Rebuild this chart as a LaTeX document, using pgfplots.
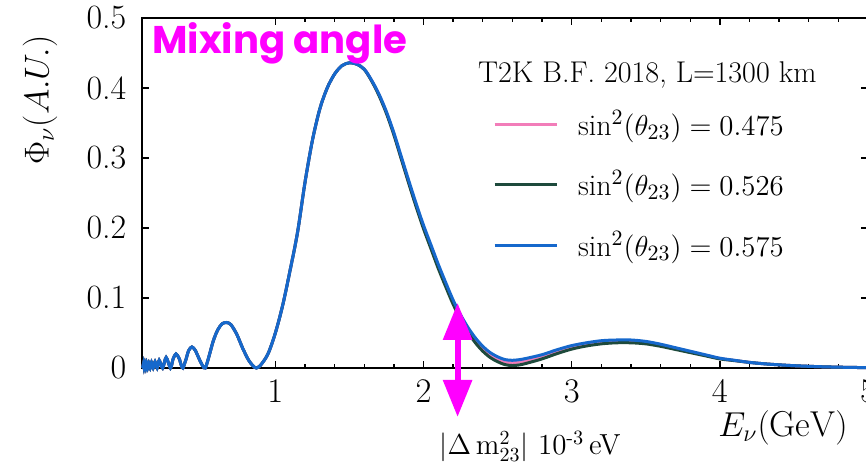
\documentclass[border=0pt]{standalone}
\usepackage{pgfplots}
\pgfplotsset{compat=1.18}
\usepackage{fontspec}
\usetikzlibrary{arrows.meta}
\newfontfamily\poppins{Poppins}

\definecolor{fluxpink}{HTML}{F27DB9}
\definecolor{fluxgreen}{HTML}{1E4A3C}
\definecolor{fluxblue}{HTML}{1668CC}
\definecolor{notemag}{HTML}{FF00FF}

% sin^2(theta_23) = 0.575
\pgfplotstableread{
x y
0.100 0.000
0.105 0.001
0.110 0.006
0.114 0.001
0.120 0.006
0.125 0.000
0.131 0.007
0.138 0.000
0.146 0.007
0.155 0.000
0.164 0.008
0.175 0.000
0.188 0.009
0.202 0.000
0.216 0.011
0.239 0.000
0.263 0.015
0.292 0.000
0.310 0.013
0.329 0.020
0.350 0.014
0.365 0.004
0.376 0.000
0.395 0.011
0.415 0.025
0.437 0.030
0.460 0.025
0.490 0.011
0.510 0.003
0.527 0.000
0.550 0.015
0.580 0.038
0.610 0.054
0.640 0.063
0.670 0.065
0.700 0.062
0.740 0.048
0.780 0.028
0.820 0.011
0.850 0.003
0.872 0.000
0.900 0.004
0.950 0.020
1.000 0.050
1.050 0.090
1.100 0.140
1.150 0.194
1.200 0.265
1.250 0.325
1.300 0.370
1.350 0.400
1.400 0.420
1.450 0.432
1.500 0.436
1.550 0.434
1.600 0.427
1.650 0.411
1.700 0.391
1.750 0.366
1.800 0.336
1.850 0.302
1.900 0.268
1.950 0.235
2.000 0.204
2.050 0.176
2.100 0.148
2.150 0.122
2.200 0.097
2.250 0.076
2.300 0.058
2.350 0.043
2.400 0.031
2.450 0.022
2.500 0.016
2.550 0.012
2.600 0.011
2.650 0.012
2.700 0.014
2.800 0.019
2.900 0.026
3.000 0.032
3.100 0.036
3.200 0.039
3.300 0.040
3.400 0.040
3.500 0.038
3.600 0.034
3.700 0.029
3.800 0.024
3.900 0.019
4.000 0.014
4.100 0.011
4.200 0.008
4.300 0.006
4.400 0.0045
4.500 0.0033
4.600 0.0024
4.700 0.0017
4.800 0.0012
4.900 0.0008
5.000 0.0005
}\fluxC

% sin^2(theta_23) = 0.475
\pgfplotstableread{
x y
0.100 0.000
0.105 0.001
0.110 0.006
0.114 0.001
0.120 0.006
0.125 0.000
0.131 0.007
0.138 0.000
0.146 0.007
0.155 0.000
0.164 0.008
0.175 0.000
0.188 0.009
0.202 0.000
0.216 0.011
0.239 0.000
0.263 0.015
0.292 0.000
0.310 0.013
0.329 0.020
0.350 0.014
0.365 0.004
0.376 0.000
0.395 0.011
0.415 0.025
0.437 0.030
0.460 0.025
0.490 0.011
0.510 0.003
0.527 0.000
0.550 0.015
0.580 0.038
0.610 0.054
0.640 0.063
0.670 0.065
0.700 0.062
0.740 0.048
0.780 0.028
0.820 0.011
0.850 0.003
0.872 0.000
0.900 0.004
0.950 0.020
1.000 0.050
1.050 0.090
1.100 0.140
1.150 0.194
1.200 0.265
1.250 0.325
1.300 0.370
1.350 0.400
1.400 0.420
1.450 0.432
1.500 0.436
1.550 0.434
1.600 0.427
1.650 0.4105
1.700 0.390
1.750 0.3645
1.800 0.334
1.850 0.2995
1.900 0.265
1.950 0.232
2.000 0.201
2.050 0.173
2.100 0.145
2.150 0.119
2.200 0.094
2.250 0.0725
2.300 0.054
2.350 0.039
2.400 0.027
2.450 0.018
2.500 0.012
2.550 0.0085
2.600 0.0075
2.650 0.0085
2.700 0.0105
2.800 0.016
2.900 0.023
3.000 0.029
3.100 0.0332
3.200 0.0365
3.300 0.0378
3.400 0.038
3.500 0.0362
3.600 0.0325
3.700 0.0278
3.800 0.023
3.900 0.0183
4.000 0.0135
4.100 0.0107
4.200 0.008
4.300 0.006
4.400 0.0045
4.500 0.0033
4.600 0.0024
4.700 0.0017
4.800 0.0012
4.900 0.0008
5.000 0.0005
}\fluxA

% sin^2(theta_23) = 0.526
\pgfplotstableread{
x y
0.100 0.000
0.105 0.001
0.110 0.006
0.114 0.001
0.120 0.006
0.125 0.000
0.131 0.007
0.138 0.000
0.146 0.007
0.155 0.000
0.164 0.008
0.175 0.000
0.188 0.009
0.202 0.000
0.216 0.011
0.239 0.000
0.263 0.015
0.292 0.000
0.310 0.013
0.329 0.020
0.350 0.014
0.365 0.004
0.376 0.000
0.395 0.011
0.415 0.025
0.437 0.030
0.460 0.025
0.490 0.011
0.510 0.003
0.527 0.000
0.550 0.015
0.580 0.038
0.610 0.054
0.640 0.063
0.670 0.065
0.700 0.062
0.740 0.048
0.780 0.028
0.820 0.011
0.850 0.003
0.872 0.000
0.900 0.004
0.950 0.020
1.000 0.050
1.050 0.090
1.100 0.140
1.150 0.194
1.200 0.265
1.250 0.325
1.300 0.370
1.350 0.400
1.400 0.420
1.450 0.432
1.500 0.436
1.550 0.434
1.600 0.4265
1.650 0.410
1.700 0.389
1.750 0.3635
1.800 0.333
1.850 0.2985
1.900 0.264
1.950 0.2305
2.000 0.199
2.050 0.1705
2.100 0.142
2.150 0.116
2.200 0.091
2.250 0.0695
2.300 0.051
2.350 0.036
2.400 0.024
2.450 0.015
2.500 0.009
2.550 0.0048
2.600 0.0035
2.650 0.0045
2.700 0.007
2.800 0.013
2.900 0.0205
3.000 0.027
3.100 0.0315
3.200 0.0345
3.300 0.036
3.400 0.036
3.500 0.0345
3.600 0.031
3.700 0.0265
3.800 0.022
3.900 0.0175
4.000 0.013
4.100 0.0105
4.200 0.008
4.300 0.006
4.400 0.0045
4.500 0.0033
4.600 0.0024
4.700 0.0017
4.800 0.0012
4.900 0.0008
5.000 0.0005
}\fluxB

\begin{document}
\begin{tikzpicture}[font=\fontsize{15}{18}\selectfont]
\begin{axis}[
  at={(0,0)}, anchor=south west,
  scale only axis,
  width=363pt, height=175pt,
  xmin=0.1, xmax=5,
  ymin=0, ymax=0.5,
  clip=false,
  xtick={1,2,3,4,5},
  minor x tick num=4,
  ytick={0,0.1,0.2,0.3,0.4,0.5},
  yticklabels={0,0.1,0.2,0.3,0.4,0.5},
  tick align=inside,
  major tick length=3.6pt,
  minor tick length=2pt,
  every tick/.style={black, line width=0.7pt},
  axis line style={black, line width=0.9pt},
  tick label style={font=\fontsize{17}{20}\selectfont},
  yticklabel style={xshift=-4.3pt},
  xticklabel style={yshift=-2.8pt},
  ylabel={$\Phi_{\nu}(A.U.)$},
  ylabel style={at={(axis description cs:-0.1405,0.766)}, anchor=center,
    rotate=0, font=\fontsize{17.5}{20}\selectfont},
  xlabel={$E_{\nu}(\mathrm{GeV})$},
  xlabel style={at={(axis description cs:0.883,-0.171)}, anchor=center,
    font=\fontsize{18}{21}\selectfont},
  legend cell align=left,
  legend style={
    draw=none, fill=none,
    at={(axis description cs:0.483,0.744)}, anchor=north west,
    font=\fontsize{15}{18}\selectfont,
    row sep=14.3pt,
    inner sep=0pt,
    nodes={inner sep=1pt},
  },
  legend image code/.code={\draw[#1, line width=1.5pt] (0pt,0pt) -- (31pt,0pt);},
]
\addplot[fluxpink, line width=1.5pt, smooth, tension=0.5] table {\fluxA};
\addlegendentry{\hspace{9pt}$\sin^2(\theta_{23})=0.475$}
\addplot[fluxgreen, line width=1.5pt, smooth, tension=0.5] table {\fluxB};
\addlegendentry{\hspace{9pt}$\sin^2(\theta_{23})=0.526$}
\addplot[fluxblue, line width=1.5pt, smooth, tension=0.5] table {\fluxC};
\addlegendentry{\hspace{9pt}$\sin^2(\theta_{23})=0.575$}

% legend title
\node[anchor=center] at (axis description cs:0.696,0.837) {T2K B.F. 2018, L=1300 km};

% annotation
\node[anchor=base west, inner sep=0pt, text=notemag, font=\poppins\bfseries\fontsize{19.3}{23}\selectfont]
  at (axis description cs:0.0138,0.9) {Mixing angle};
\draw[notemag, line width=3pt,
  {Triangle[width=14pt,length=18.5pt]}-{Triangle[width=14pt,length=18.5pt]}]
  (axis cs:2.23,0.093) -- (axis cs:2.23,-0.070);
\node[anchor=base] at (axis cs:2.72,-0.124)
  {\fontsize{14.5}{17}\selectfont$|\Delta\,\mathrm{m}^2_{23}|$ 10\textsuperscript{-3}\,eV};

\end{axis}
% page extent
\pgfresetboundingbox
\useasboundingbox (-71pt,-51pt) rectangle (362pt,184pt);
\end{tikzpicture}
\end{document}
